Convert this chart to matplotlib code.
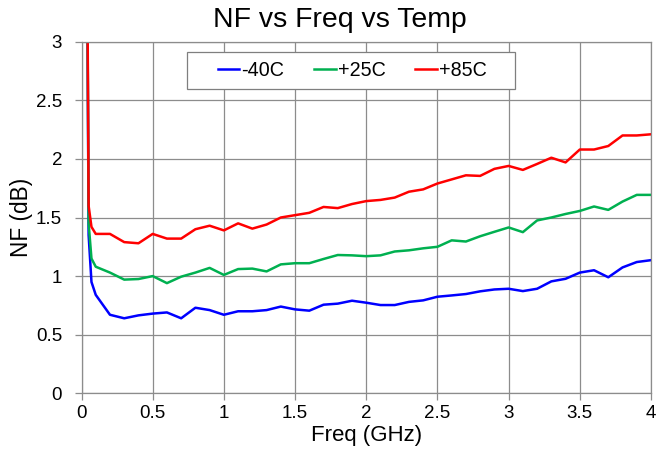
import matplotlib
matplotlib.use('Agg')
import matplotlib.pyplot as plt
from matplotlib.patches import Rectangle

plt.rcParams['font.family'] = ['Liberation Sans', 'DejaVu Sans']

# frequency points (GHz): a few low-frequency points, then 0.1 GHz steps
freq = [0.01, 0.03, 0.05, 0.07] + [round(0.1 * i, 1) for i in range(1, 41)]

nf_m40 = [20, 6, 1.35, 0.95,
          0.84, 0.67, 0.64, 0.665, 0.68, 0.69, 0.64, 0.73, 0.71, 0.67,
          0.70, 0.70, 0.71, 0.74, 0.716, 0.705, 0.756, 0.765, 0.79, 0.773,
          0.753, 0.753, 0.78, 0.793, 0.824, 0.835, 0.847, 0.87, 0.886, 0.892,
          0.872, 0.892, 0.955, 0.977, 1.03, 1.05, 0.99, 1.074, 1.12, 1.136]
nf_p25 = [20, 6, 1.45, 1.15,
          1.08, 1.03, 0.97, 0.975, 1.00, 0.94, 0.995, 1.03, 1.07, 1.01,
          1.06, 1.064, 1.04, 1.10, 1.11, 1.11, 1.146, 1.18, 1.177, 1.17,
          1.177, 1.21, 1.22, 1.237, 1.25, 1.305, 1.295, 1.34, 1.378, 1.415,
          1.375, 1.475, 1.50, 1.53, 1.556, 1.594, 1.565, 1.636, 1.693, 1.693]
nf_p85 = [20, 6, 1.6, 1.42,
          1.36, 1.36, 1.29, 1.28, 1.36, 1.32, 1.32, 1.40, 1.43, 1.39,
          1.45, 1.405, 1.44, 1.50, 1.52, 1.54, 1.59, 1.58, 1.615, 1.64,
          1.65, 1.67, 1.72, 1.74, 1.79, 1.825, 1.86, 1.855, 1.915, 1.94,
          1.906, 1.957, 2.01, 1.97, 2.08, 2.08, 2.11, 2.20, 2.20, 2.21]

W, H = 657, 462
fig = plt.figure(figsize=(W / 100, H / 100), dpi=100)
ax = fig.add_axes([81.5 / W, 1 - 393.3 / H, 569.5 / W, 351.6 / H])

ax.plot(freq, nf_m40, color='#0000FF', lw=1.8, label='-40C')
ax.plot(freq, nf_p25, color='#00B050', lw=1.8, label='+25C')
ax.plot(freq, nf_p85, color='#FF0000', lw=1.8, label='+85C')

ax.set_xlim(0, 4)
ax.set_ylim(0, 3)
ax.set_xticks([0, 0.5, 1, 1.5, 2, 2.5, 3, 3.5, 4])
ax.set_xticklabels(['0', '0.5', '1', '1.5', '2', '2.5', '3', '3.5', '4'])
ax.set_yticks([0, 0.5, 1, 1.5, 2, 2.5, 3])
ax.set_yticklabels(['0', '0.5', '1', '1.5', '2', '2.5', '3'])
ax.grid(True, color='#8c8c8c', lw=0.9)
ax.set_axisbelow(True)
for s in ax.spines.values():
    s.set_color('#8c8c8c')
    s.set_linewidth(0.9)
ax.tick_params(labelsize=13.5, color='#8c8c8c', length=5, width=0.9)
ax.tick_params(axis='y', pad=9)

fig.text(340 / W, 1 - 20 / H, 'NF vs Freq vs Temp', fontsize=20.4,
         ha='center', va='center')
ax.set_xlabel('Freq (GHz)', fontsize=16, labelpad=2)
ax.set_ylabel('NF (dB)', fontsize=16.3, labelpad=2)

# legend frame drawn separately (wide side padding like the original)
ax.add_patch(Rectangle((186.7 / W, 1 - 89 / H), 328 / W, 36.7 / H,
                       transform=fig.transFigure, facecolor='white',
                       edgecolor='#7f7f7f', lw=0.9, zorder=4, clip_on=False))
leg = ax.legend(loc='center left', bbox_to_anchor=(217.7 / W, 1 - 70.7 / H),
                bbox_transform=fig.transFigure, ncol=3, fontsize=14.2,
                handlelength=1.1, handletextpad=0.1, columnspacing=1.5,
                frameon=False, borderpad=0, borderaxespad=0)
leg.set_zorder(5)

fig.savefig('out.png', dpi=100)
